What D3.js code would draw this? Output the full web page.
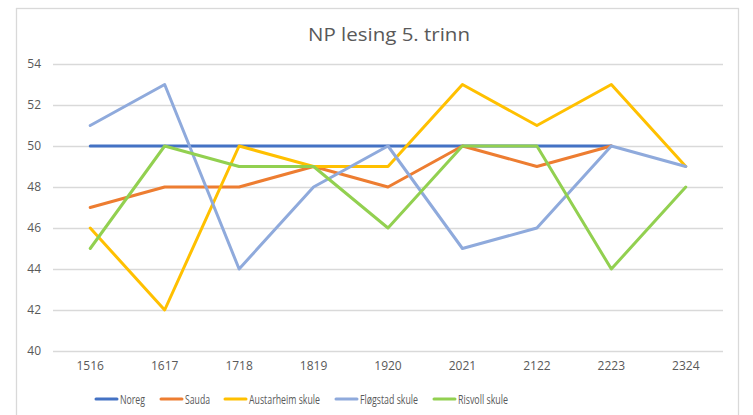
<!DOCTYPE html>
<html>
<head>
<meta charset="utf-8">
<script src="https://cdn.jsdelivr.net/npm/d3@7"></script>
<style>
  body { margin: 0; background: #fff; }
  text { font-family: "Open Sans", sans-serif; fill: #595959; }
</style>
</head>
<body>
<div id="chart-area"></div>
<script>
// data
const years = ["1516", "1617", "1718", "1819", "1920", "2021", "2122", "2223", "2324"]
const noreg = [50, 50, 50, 50, 50, 50, 50, 50, null]
const sauda = [47, 48, 48, 49, 48, 50, 49, 50, null]
const austarheim = [46, 42, 50, 49, 49, 53, 51, 53, 49]
const flogstad = [51, 53, 44, 48, 50, 45, 46, 50, 49]
const risvoll = [45, 50, 49, 49, 46, 50, 50, 44, 48]
const yTicks = [40, 42, 44, 46, 48, 50, 52, 54]

const series = [
  { name: "Noreg", values: noreg, color: "#4472C4" },
  { name: "Sauda", values: sauda, color: "#ED7D31" },
  { name: "Austarheim skule", values: austarheim, color: "#FFC000" },
  { name: "Fløgstad skule", values: flogstad, color: "#8FAADC" },
  { name: "Risvoll skule", values: risvoll, color: "#92D050" }
]

const W = 753, H = 415
const MARGIN = { LEFT: 53, RIGHT: 30, TOP: 64, BOTTOM: 64 }

const svg = d3.select("#chart-area").append("svg")
  .attr("width", W)
  .attr("height", H)

// chart frame
svg.append("rect")
  .attr("x", 16.5).attr("y", 8.5)
  .attr("width", 722).attr("height", 420)
  .attr("fill", "#fff")
  .attr("stroke", "#d9d9d9")
  .attr("stroke-width", 1.3)

svg.append("text")
  .attr("x", 389)
  .attr("y", 41)
  .attr("text-anchor", "middle")
  .attr("font-size", 18)
  .attr("textLength", 162)
  .attr("lengthAdjust", "spacingAndGlyphs")
  .text("NP lesing 5. trinn")

const x = d3.scaleBand()
  .domain(years)
  .range([MARGIN.LEFT, W - MARGIN.RIGHT])
  .padding(0)

const y = d3.scaleLinear()
  .domain([40, 54])
  .range([351, MARGIN.TOP])

// gridlines
svg.append("g")
  .attr("transform", `translate(${MARGIN.LEFT},0)`)
  .call(d3.axisLeft(y).tickValues(yTicks).tickSize(-(W - MARGIN.RIGHT - MARGIN.LEFT)).tickPadding(12))
  .call(g => g.select(".domain").remove())
  .call(g => g.selectAll("line").attr("stroke", "#d9d9d9").attr("stroke-width", 1.3))
  .call(g => g.selectAll("text").attr("font-size", 12).attr("fill", "#595959").attr("font-family", "Open Sans"))

// x labels
svg.append("g")
  .attr("transform", `translate(0,351)`)
  .call(d3.axisBottom(x).tickSize(0).tickPadding(10))
  .call(g => g.select(".domain").remove())
  .call(g => g.selectAll("text").attr("font-size", 12).attr("fill", "#595959").attr("font-family", "Open Sans"))

const line = d3.line()
  .defined(d => d != null)
  .x((d, i) => x(years[i]) + x.bandwidth() / 2)
  .y(d => y(d))

svg.selectAll(".series")
  .data(series)
  .enter().append("path")
  .attr("class", "series")
  .attr("d", d => line(d.values))
  .attr("fill", "none")
  .attr("stroke", d => d.color)
  .attr("stroke-width", 3)
  .attr("stroke-linejoin", "round")
  .attr("stroke-linecap", "round")

// legend
const legendX = [95, 160, 224, 335, 433]
const legendW = [25, 25, 71, 58, 50]
const legend = svg.selectAll(".legend")
  .data(series)
  .enter().append("g")
  .attr("class", "legend")
  .attr("transform", (d, i) => `translate(${legendX[i]}, 399)`)

legend.append("line")
  .attr("x1", 1).attr("x2", 22)
  .attr("stroke", d => d.color)
  .attr("stroke-width", 3)
  .attr("stroke-linecap", "round")

legend.append("text")
  .attr("x", 25)
  .attr("y", 4.5)
  .attr("font-size", 13)
  .attr("textLength", (d, i) => legendW[i])
  .attr("lengthAdjust", "spacingAndGlyphs")
  .text(d => d.name)
</script>
</body>
</html>
